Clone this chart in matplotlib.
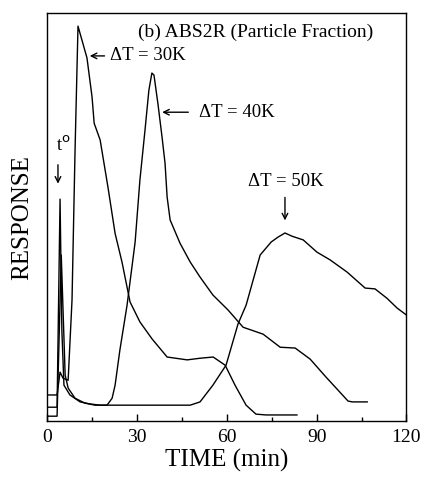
import matplotlib
matplotlib.use("Agg")
import matplotlib.pyplot as plt

# time axis (min) and response (relative, 0-100)
t_30k = [0, 3.2, 4.2, 5.2, 6.9, 8.2, 9.2, 10.2, 13.2, 14.9, 15.6, 17.6, 20.2, 22.6,
         24.9, 27.6, 30.9, 35.0, 40.0, 46.7, 51.0, 55.4, 59.4, 62.7, 66.4, 69.7,
         73.1, 83.4]
r_30k = [6.4, 6.4, 12.0, 10.5, 10.0, 29.7, 66.0, 96.8, 89.0, 79.4, 73.0, 68.9, 57.4, 46.0,
         39.0, 29.2, 24.3, 20.1, 15.7, 15.0, 15.4, 15.7, 13.7, 8.8, 3.9, 1.7,
         1.5, 1.5]

t_40k = [0, 3.2, 4.2, 4.8, 5.5, 7.5, 10.9, 14.2, 17.6, 19.9, 21.6, 22.6, 24.2, 26.6,
         29.3, 30.9, 32.6, 33.9, 34.9, 35.6, 36.9, 38.3, 39.3, 40.0, 41.0, 44.3,
         47.7, 51.0, 55.3, 60.4, 65.4, 72.1, 77.8, 82.8, 87.8, 93.1, 100.5, 101.9,
         106.9]
r_40k = [3.4, 3.4, 54.4, 22.3, 8.8, 6.4, 4.7, 4.2, 3.9, 3.9, 5.6, 8.8, 17.4, 28.4,
         43.9, 59.1, 71.3, 81.1, 85.3, 84.8, 77.9, 69.6, 63.2, 54.9, 49.3, 43.6,
         39.0, 35.3, 30.9, 27.2, 23.0, 21.3, 18.1, 17.9, 15.2, 10.8, 4.9, 4.7,
         4.7]

t_50k = [0, 3.2, 4.6, 5.9, 6.9, 9.2, 12.5, 15.9, 30.0, 47.7, 51.0, 55.3, 59.7, 63.7,
         66.4, 71.1, 74.8, 77.1, 79.4, 81.8, 85.5, 90.1, 94.5, 100.2, 106.2, 109.5,
         113.5, 116.9, 120.0]
r_50k = [1.2, 1.2, 40.7, 11.3, 8.1, 5.6, 4.4, 3.9, 3.9, 3.9, 4.7, 8.8, 13.7, 23.8,
         28.4, 40.7, 43.9, 45.1, 46.1, 45.3, 44.4, 41.4, 39.5, 36.5, 32.6, 32.4,
         30.1, 27.7, 26.0]

x_ticks = [0, 30, 60, 90, 120]

serif = ["Liberation Serif", "DejaVu Serif"]


def main():
    fig = plt.figure(figsize=(4.26, 4.84), dpi=100)
    ax = fig.add_axes([0.1115, 0.130, 0.8425, 0.843])

    for t, r in [(t_30k, r_30k), (t_40k, r_40k), (t_50k, r_50k)]:
        ax.plot(t, r, color="black", lw=1.0)

    ax.set_xlim(0, 120)
    ax.set_ylim(0, 100)
    ax.set_xticks(x_ticks)
    ax.set_xticks([15, 45, 75, 105], minor=True)
    ax.set_yticks([])
    ax.tick_params(axis="x", which="major", direction="in", length=5, width=1,
                   labelsize=14, pad=6)
    ax.tick_params(axis="x", which="minor", direction="in", length=3, width=1)
    for lab in ax.get_xticklabels():
        lab.set_family(serif)
    for s in ax.spines.values():
        s.set_linewidth(1.0)

    ax.set_xlabel("TIME (min)", family=serif, fontsize=18, labelpad=2)
    ax.set_ylabel("RESPONSE", family=serif, fontsize=18, labelpad=10)

    # title inside the box
    ax.text(69.5, 95.3, "(b) ABS2R (Particle Fraction)", family=serif,
            fontsize=14, ha="center", va="center")

    # peak labels
    arrow = dict(arrowstyle="->", lw=1.0, color="black")
    ax.annotate("", xy=(13.2, 89.5), xytext=(20.0, 89.5), arrowprops=arrow)
    ax.text(21.0, 89.5, "\u0394T = 30K", family=serif, fontsize=13.5, va="center")
    ax.annotate("", xy=(37.4, 75.7), xytext=(48.0, 75.7), arrowprops=arrow)
    ax.text(50.5, 75.7, "\u0394T = 40K", family=serif, fontsize=13.5, va="center")
    ax.text(79.6, 58.6, "\u0394T = 50K", family=serif, fontsize=13.5,
            ha="center", va="center")
    ax.annotate("", xy=(79.4, 48.5), xytext=(79.4, 55.5), arrowprops=arrow)

    # injection mark
    ax.text(3.0, 67.5, "t$^{\\mathrm{o}}$", family=serif, fontsize=13.5,
            ha="left", va="center")
    ax.annotate("", xy=(3.5, 57.5), xytext=(3.5, 63.5), arrowprops=arrow)

    fig.savefig("out.png", dpi=100)


if __name__ == "__main__":
    main()
